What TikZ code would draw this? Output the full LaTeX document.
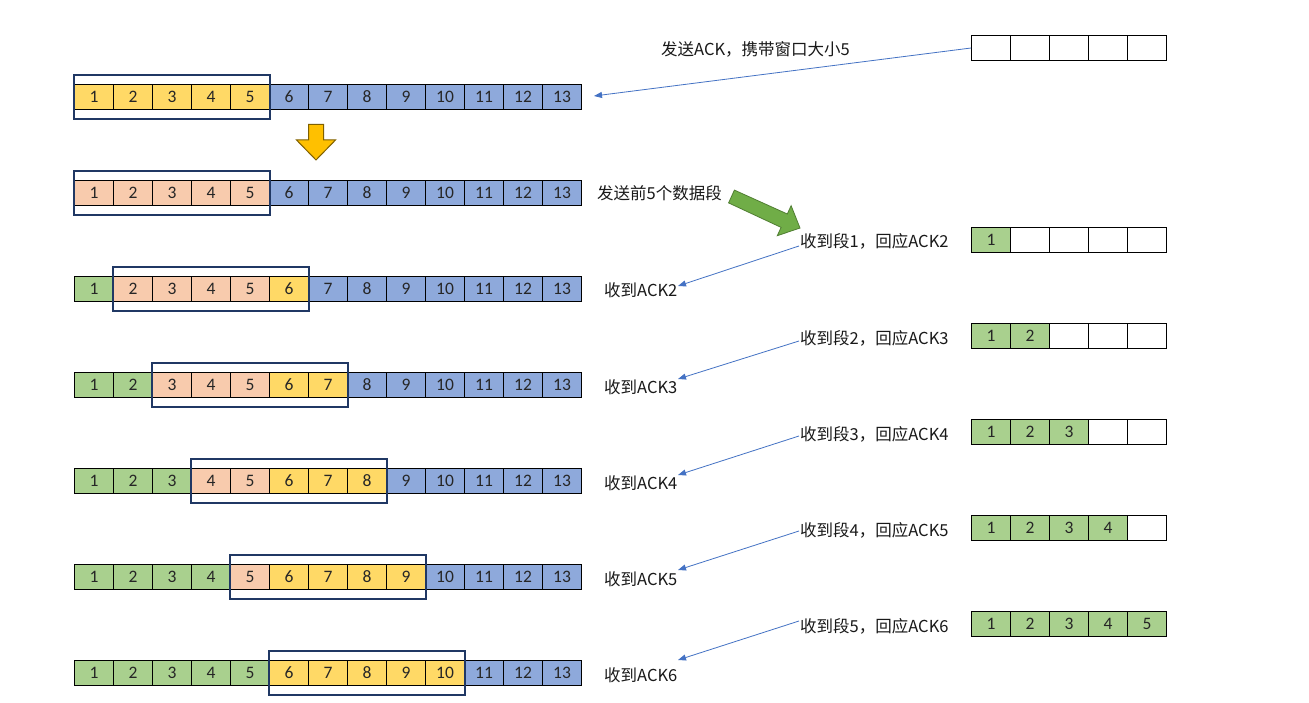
\documentclass[tikz,border=0pt]{standalone}
\usepackage{fontspec}
\setmainfont{Noto Sans CJK SC}
\newfontfamily\digitfont{Carlito}
\usetikzlibrary{fit,arrows.meta}
\definecolor{cy}{HTML}{FFD966}
\definecolor{cb}{HTML}{8EA9DB}
\definecolor{cs}{HTML}{F8CBAD}
\definecolor{cg}{HTML}{A9D08E}
\definecolor{cw}{HTML}{FFFFFF}
\definecolor{winc}{HTML}{203864}
\definecolor{ackc}{HTML}{4472C4}
\definecolor{garrow}{HTML}{70AD47}
\definecolor{garrowd}{HTML}{507E32}
\definecolor{yarrow}{HTML}{FFC000}
\definecolor{yarrowd}{HTML}{7F6000}
\begin{document}
\begin{tikzpicture}[x=1pt,y=-1pt,
  cell/.style={draw=black, line width=0.8pt, minimum width=39pt, minimum height=24.5pt, inner sep=0pt, text height=11pt, text depth=0pt, font=\digitfont\fontsize{17.5}{17.5}\selectfont, text=black!85},
  win/.style={draw=winc, line width=2pt, inner xsep=0pt, inner ysep=9.5pt},
  lab/.style={font=\fontsize{16.5}{16.5}\selectfont, text=black!90, inner sep=0pt, anchor=west},
  ack/.style={draw=ackc, line width=0.8pt, -{Triangle[length=8pt,width=6pt]}}]
\useasboundingbox (0,0) rectangle (1309,703);
\fill[white] (0,0) rectangle (1309,703);
% sender rows
\foreach \r/\y/\g/\s/\yl in {1/97/0/0/5, 2/193/0/5/5, 3/289/1/5/6, 4/385/2/5/7, 5/481/3/5/8, 6/577/4/5/9, 7/673/5/5/10}{
  \foreach \c in {1,...,13}{
    \ifnum\c>\yl \def\cc{cb}\else\ifnum\c>\s \def\cc{cy}\else\ifnum\c>\g \def\cc{cs}\else\def\cc{cg}\fi\fi\fi
    \node[cell, fill=\cc] (r\r-\c) at ({74.5+39*(\c-0.5)},\y) {\c};
  }
  \pgfmathtruncatemacro\wa{\g+1}
  \pgfmathtruncatemacro\wb{\g+5}
  \node[win, fit=(r\r-\wa)(r\r-\wb)] (w\r) {};
}
% receiver boxes
\foreach \k/\y in {0/48,1/240,2/336,3/432,4/528,5/624}{
  \foreach \j in {1,...,5}{
    \ifnum\j>\k \def\cc{cw}\def\tt{}\else\def\cc{cg}\edef\tt{\j}\fi
    \node[cell, fill=\cc] (q\k-\j) at ({971.5+39*(\j-0.5)},\y) {\tt};
  }
}
% top label and arrow
\node[lab] (l0) at (661,49) {发送ACK，携带窗口大小5};
\coordinate (e0) at (594,96);
\draw[ack] (q0-1.west) -- (e0);
% yellow down arrow
\draw[fill=yarrow, draw=yarrowd, line width=1pt, line join=miter]
  (308.5,124.5) -- (323.5,124.5) -- (323.5,140) -- (335.5,140) -- (316,160) -- (296.5,140) -- (308.5,140) -- cycle;
% send label and green arrow
\node[lab] (send) at (597,193) {发送前5个数据段};
\draw[fill=garrow, draw=garrowd, line width=0.8pt, line join=miter]
  (734.4,190.1) -- (787.3,214.0) -- (791.1,205.7) -- (800,228) -- (777.3,235.7) -- (781.1,227.4) -- (728.6,202.9) -- cycle;
% ack exchanges
\foreach \k/\ly/\sy/\ey in {1/241/246/286, 2/338/341/379, 3/434/436/475, 4/530/531/570, 5/626/621/660}{
  \pgfmathtruncatemacro\kk{\k+1}
  \node[lab] (s\k) at (800,\ly) {收到段\k，回应ACK\kk};
  \node[lab] (a\k) at (604,{\ly+49}) {收到ACK\kk};
  \coordinate (p\k) at (799,\sy);
  \coordinate (e\k) at (678,\ey);
  \draw[ack] (p\k) -- (e\k);
}
\end{tikzpicture}
\end{document}
